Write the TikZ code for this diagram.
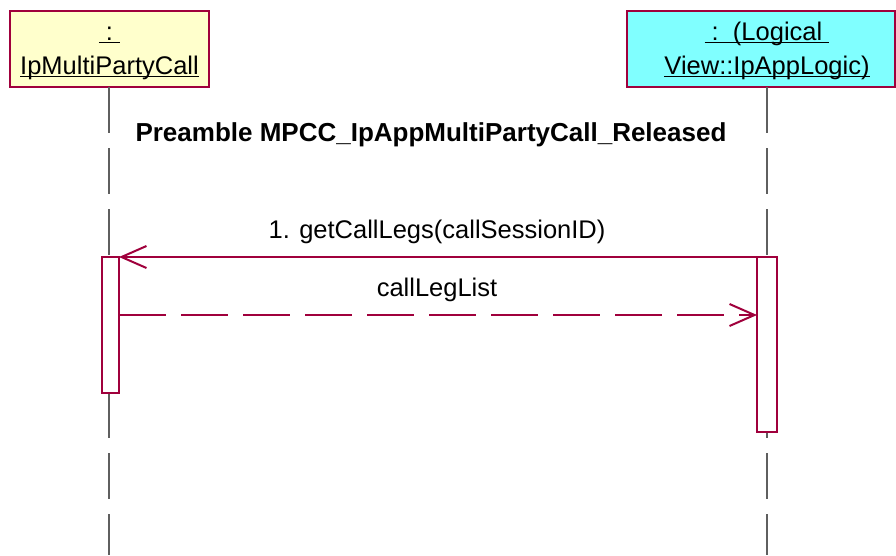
\documentclass[tikz,border=0pt]{standalone}
\usepackage{fontspec}
\setmainfont{Liberation Sans}
\usetikzlibrary{positioning,arrows.meta,calc}

\definecolor{umlRed}{RGB}{160,0,60}
\definecolor{lifeGray}{RGB}{95,95,95}
\definecolor{objYellow}{RGB}{255,255,204}
\definecolor{objCyan}{RGB}{128,255,255}

% underline as the modeller draws it: close under the baseline
\newcommand{\umlul}[1]{\setbox0\hbox{#1}\rlap{\rule[-3.2pt]{\wd0}{1.5pt}}\box0}

\tikzset{
  objbox/.style={draw=umlRed,line width=1.3pt,inner sep=0pt,outer sep=0pt,anchor=north west},
  actbox/.style={draw=umlRed,fill=white,line width=1.3pt,inner sep=0pt,outer sep=0pt,anchor=north west},
  lifeline/.style={draw=lifeGray,line width=1.4pt,dash pattern=on 46pt off 15pt},
  msgcall/.style={draw=umlRed,line width=1.3pt,-{Straight Barb[length=25pt,width=22pt,line width=2pt]}},
  msgreturn/.style={msgcall,dash pattern=on 47pt off 15pt},
  lbl/.style={inner sep=0pt,outer sep=0pt,anchor=base,font=\fontsize{25.5}{30}\selectfont},
  title/.style={lbl,font=\fontsize{26}{30}\selectfont\bfseries}
}

\begin{document}
\begin{tikzpicture}[x=1pt,y=-1pt]
\path[use as bounding box,fill=white] (0,0) rectangle (896,555);

% objects
\node[objbox,fill=objYellow,minimum width=199pt,minimum height=76pt] (objCall) at (10,11) {};
\node[objbox,fill=objCyan,minimum width=268pt,minimum height=76pt] (objApp) at (627,11) {};

\node[lbl] (objCallColon) at (109.5,40) {\umlul{\ :\ }};
\node[lbl] (objCallName) at (109.5,74) {\umlul{IpMultiPartyCall}};
\node[lbl] (objAppColon) at (767,40) {\umlul{\ :\ \ (Logical\ }};
\node[lbl] (objAppName) at (767,74) {\umlul{View::IpAppLogic)}};

% lifelines
\coordinate (lifeAtop) at (109,87);
\coordinate (lifeAend) at (109,555);
\coordinate (lifeBtop) at (767,87);
\coordinate (lifeBend) at (767,555);
\draw[lifeline] (lifeAtop) -- (lifeAend);
\draw[lifeline] (lifeBtop) -- (lifeBend);

\node[title] (preamble) at (431,141) {Preamble MPCC\_IpAppMultiPartyCall\_Released};

% activations
\node[actbox,minimum width=17pt,minimum height=136pt] (actA) at (102,257) {};
\node[actbox,minimum width=20pt,minimum height=175pt] (actB) at (757,257) {};

% messages
\draw[msgcall] (actB.north west) -- (actA.north east);
\node[lbl] (msgGet) at (437,238) {1. getCallLegs(callSessionID)};

\coordinate (retY) at (0,315);
\draw[msgreturn] (actA.north east |- retY) -- (actB.north west |- retY);
\node[lbl] (msgRet) at (437,296) {callLegList};
\end{tikzpicture}
\end{document}
